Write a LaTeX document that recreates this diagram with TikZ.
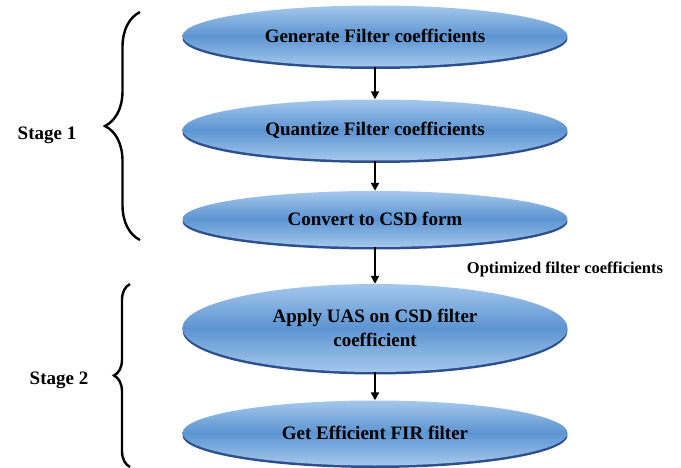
\documentclass[tikz,border=0pt]{standalone}
\usepackage{fontspec}
\setmainfont{Liberation Serif}
\usetikzlibrary{shapes.geometric,shadows,decorations.pathreplacing,arrows.meta}
\definecolor{lightblue}{RGB}{165,200,236}
\definecolor{midblue}{RGB}{92,148,210}
\definecolor{shadeblue}{RGB}{45,80,140}
\begin{document}
\begin{tikzpicture}
        [x=1pt, y=-1pt,
        step box/.style={ellipse, minimum width=385pt, inner sep=0pt, align=center,
            top color=lightblue, bottom color=lightblue, middle color=midblue,
            drop shadow={shadow xshift=0pt, shadow yshift=-2.5pt, opacity=1, fill=shadeblue},
            font=\fontsize{19}{24}\selectfont\bfseries},
        flow/.style={-{Triangle[length=8pt,width=8pt]}, line width=2.4pt},
        stage brace/.style={decorate, line width=2.4pt},
        stage/.style={font=\fontsize{19}{22}\selectfont\bfseries}]

        \useasboundingbox (0,0) rectangle (681,468);

        \node [step box, minimum height=61pt] (gen) at (375,36) {Generate Filter coefficients};
        \node [step box, minimum height=61pt] (quant) at (375,130) {Quantize Filter coefficients};
        \node [step box, minimum height=56pt] (csd) at (375,219) {Convert to CSD form};
        \node [step box, minimum height=88pt] (uas) at (375,328) {Apply UAS on CSD filter\\coefficient};
        \node [step box, minimum height=65pt] (fir) at (375,433) {Get Efficient FIR filter};

        \draw [flow] (gen) -- (quant);
        \draw [flow] (quant) -- (csd);
        \draw [flow] (csd) -- (uas);
        \draw [flow] (uas) -- (fir);

        \node [font=\fontsize{16.5}{19}\selectfont\bfseries] (opt) at (565,269) {Optimized filter coefficients};

        % stage braces
        \coordinate (s1b) at (140,240);
        \coordinate (s1t) at (140,12);
        \draw [stage brace, decoration={brace, amplitude=35pt}] (s1b) -- (s1t);
        \node [stage] (stage1) at (47,135) {Stage 1};

        \coordinate (s2b) at (130,467);
        \coordinate (s2t) at (130,284);
        \draw [stage brace, decoration={brace, amplitude=16pt}] (s2b) -- (s2t);
        \node [stage] (stage2) at (59,380) {Stage 2};
    \end{tikzpicture}
\end{document}
